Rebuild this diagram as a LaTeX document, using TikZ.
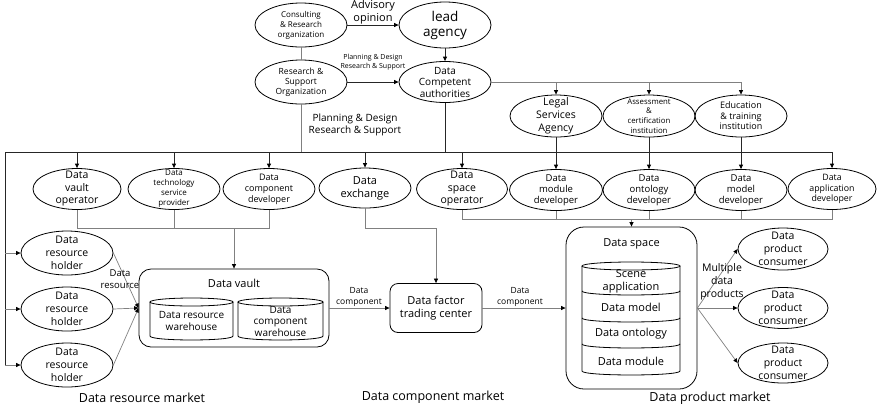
\documentclass[tikz,border=0pt]{standalone}
\usepackage{fontspec}
\setmainfont{Open Sans}
\usetikzlibrary{arrows.meta,shapes.geometric}

% Ellipse with centred text: name, position, width, height, font size, line skip, text
\newcommand{\EllBox}[7]{%
  \node[ell, minimum width=#3pt, minimum height=#4pt] (#1) at (#2) {};
  \node[etext, font=\fontsize{#5}{#6}\selectfont] (#1-t) at (#1.center) {#7};}

\tikzset{
  ell/.style={draw=black, line width=0.8pt, ellipse, inner sep=0pt},
  etext/.style={align=center, inner sep=0pt, text=black},
  tip/.style={-{Triangle[length=4.5pt,width=4pt,color=black]}},
  wire/.style={draw=black!50, line width=0.7pt},
  bus/.style={draw=black!85, line width=0.8pt},
  arr/.style={wire, tip},
  busarr/.style={bus, tip},
  panel/.style={draw=black, line width=0.8pt, rounded corners=#1, inner sep=0pt},
  cyl/.style={draw=black, line width=0.8pt},
}

\begin{document}
\begin{tikzpicture}[x=1pt, y=-1pt]
\useasboundingbox (0,0) rectangle (877,408);

% ---- governance level
\EllBox{cons}{301,25}{92}{44}{8}{10}{Consulting\\\& Research\\organization}
\EllBox{lead}{445,25}{92}{46}{13.5}{15}{lead\\agency}
\EllBox{rso}{301,82}{92}{44}{8.5}{10}{Research \&\\Support\\Organization}
\EllBox{dca}{445,82}{92}{41}{10}{11.5}{Data\\Competent\\authorities}

\EllBox{legal}{556,116}{92}{42}{10.5}{13}{Legal\\Services\\Agency}
\EllBox{assess}{649,116}{92}{42}{7.8}{9.6}{Assessment\\\&\\certification\\institution}
\EllBox{edu}{741,116}{92}{42}{9}{10.5}{Education\\\& training\\institution}

% ---- operators and developers
\EllBox{vop}{77,189}{88}{41}{10.5}{12.5}{Data\\vault\\operator}
\EllBox{tech}{174,189}{92}{41}{8}{10}{Data\\technology\\service\\provider}
\EllBox{cdev}{269,189}{92}{41}{9}{11}{Data\\component\\developer}
\EllBox{dex}{365,188}{92}{40}{11}{13}{Data\\exchange}
\EllBox{sop}{462,189}{91}{41}{10.5}{12.5}{Data\\space\\operator}
\EllBox{mdev}{556,190}{93}{41}{9.5}{11}{Data\\module\\developer}
\EllBox{odev}{649,190}{92}{41}{9.5}{11}{Data\\ontology\\developer}
\EllBox{modev}{741,190}{92}{41}{9.5}{11}{Data\\model\\developer}
\EllBox{adev}{832,189}{88}{41}{8.8}{10.5}{Data\\application\\developer}

% ---- resource holders and consumers
\EllBox{h1}{67,253}{92}{44}{10.5}{13}{Data\\resource\\holder}
\EllBox{h2}{67,309}{92}{44}{10.5}{13}{Data\\resource\\holder}
\EllBox{h3}{67,365}{92}{44}{10.5}{13}{Data\\resource\\holder}
\EllBox{c1}{783,249}{90}{42}{10.5}{13}{Data\\product\\consumer}
\EllBox{c2}{783,308}{90}{41}{10.5}{13}{Data\\product\\consumer}
\EllBox{c3}{783,363}{90}{40}{10.5}{13}{Data\\product\\consumer}

% ---- data vault
\node[panel=12pt, minimum width=190pt, minimum height=78pt] (vault) at (234,308) {};
\node[etext, font=\fontsize{11}{13}\selectfont] (vault-t) at (234,283) {Data vault};
\draw[cyl] (191.5,302) ellipse (41.5 and 4);
\draw[cyl] (150,302) -- (150,336) .. controls (150,341.3) and (233,341.3) .. (233,336) -- (233,302);
\draw[cyl] (280.5,302) ellipse (42.5 and 4);
\draw[cyl] (238,302) -- (238,336) .. controls (238,341.3) and (323,341.3) .. (323,336) -- (323,302);
\node[etext, font=\fontsize{10}{12}\selectfont] (wres) at (191.5,321) {Data resource\\warehouse};
\node[etext, font=\fontsize{10}{11.5}\selectfont] (wcmp) at (280.5,321) {Data\\component\\warehouse};

% ---- trading center
\node[panel=8pt, minimum width=92pt, minimum height=49pt] (trade) at (436,308) {};
\node[etext, font=\fontsize{11}{13}\selectfont] (trade-t) at (trade.center) {Data factor\\trading center};

% ---- data space
\node[panel=18pt, minimum width=131pt, minimum height=162pt] (dspace) at (631.5,308) {};
\node[etext, font=\fontsize{11}{13}\selectfont] (dspace-t) at (631.5,244) {Data space};
\draw[cyl] (631,266) ellipse (49 and 4);
\draw[cyl] (582,266) -- (582,371) .. controls (582,376.3) and (680,376.3) .. (680,371) -- (680,266);
\draw[cyl] (582,291) .. controls (582,296.3) and (680,296.3) .. (680,291);
\draw[cyl] (582,318) .. controls (582,323.3) and (680,323.3) .. (680,318);
\draw[cyl] (582,344) .. controls (582,349.3) and (680,349.3) .. (680,344);
\node[etext, font=\fontsize{11}{13}\selectfont] (lscene) at (631,281.5) {Scene\\application};
\node[etext, font=\fontsize{11}{13}\selectfont] (lmodel) at (631,307) {Data model};
\node[etext, font=\fontsize{11}{13}\selectfont] (lonto) at (631,334) {Data ontology};
\node[etext, font=\fontsize{11}{13}\selectfont] (lmod) at (631,361) {Data module};

% ---- junction points
\coordinate (busL) at (5,152);
\coordinate (busR) at (832,152);
\coordinate (busB) at (5,365);
\coordinate (leftY) at (0,228);
\coordinate (rightY) at (0,219);

% ---- top connectors
\draw[busarr] (cons.east) -- (lead.west);
\draw[wire] (cons.south) -- (rso.north);
\draw[busarr] (lead.south) -- (dca.north);
\draw[busarr] (rso.east) -- (dca.west);
\draw[wire] (dca.east) -- (edu.north |- dca.east);
\draw[arr] (legal.north |- dca.east) -- (legal.north);
\draw[arr] (assess.north |- dca.east) -- (assess.north);
\draw[arr] (edu.north |- dca.east) -- (edu.north);
\draw[wire] (rso.south) -- (rso.south |- busL);
\draw[bus] (dca.south) -- (dca.south |- busL);

% ---- distribution bus
\draw[bus] (busL) -- (busR);
\draw[bus] (busL) -- (busB);
\foreach \n in {vop,tech,cdev,dex,sop,adev}
  \draw[busarr] (\n.north |- busL) -- (\n.north);
\draw[busarr] (legal.south) -- (mdev.north);
\draw[busarr] (assess.south) -- (odev.north);
\draw[busarr] (edu.south) -- (modev.north);
\foreach \n in {h1,h2,h3}
  \draw[arr] (\n.west -| busL) -- (\n.west);

% ---- feeds into vault, trading center and data space
\draw[wire] (vop.south) -- (vop.south |- leftY) -- (cdev.south |- leftY) -- (cdev.south);
\draw[wire] (tech.south) -- (tech.south |- leftY);
\draw[arr] (vault.north |- leftY) -- (vault.north);
\draw[arr] (dex.south) -- (dex.south |- leftY) -- (trade.north |- leftY) -- (trade.north);
\draw[wire] (sop.south) -- (sop.south |- rightY) -- (adev.south |- rightY) -- (adev.south);
\foreach \n in {mdev,odev,modev}
  \draw[wire] (\n.south) -- (\n.south |- rightY);
\draw[arr] (dspace.north |- rightY) -- (dspace.north);

\foreach \n in {h1,h2,h3}
  \draw[arr] (\n.east) -- (vault.west);
\draw[arr] (vault.east) -- (trade.west);
\draw[arr] (trade.east) -- (dspace.west);
\foreach \n in {c1,c2,c3}
  \draw[arr] (dspace.east) -- (\n.west);

% ---- connector labels
\node[etext, font=\fontsize{11}{13}\selectfont] (advice) at (373,12) {Advisory\\opinion};
\node[etext, font=\fontsize{7}{8.5}\selectfont] (plan1) at (373,62) {Planning \& Design\\Research \& Support};
\node[etext, font=\fontsize{10}{12}\selectfont] (plan2) at (355,125) {Planning \& Design\\Research \& Support};
\node[etext, font=\fontsize{9.5}{11.5}\selectfont] (reslbl) at (120,279) {Data\\resource};
\node[etext, font=\fontsize{8.5}{11}\selectfont] (cmp1) at (359,297) {Data\\component};
\node[etext, font=\fontsize{8.5}{11}\selectfont] (cmp2) at (520,297) {Data\\component};
\node[etext, font=\fontsize{10.5}{13}\selectfont] (multi) at (722,282) {Multiple\\data\\products};

% ---- market captions
\node[etext, font=\fontsize{12.5}{15}\selectfont] (mres) at (142,398) {Data resource market};
\node[etext, font=\fontsize{12.5}{15}\selectfont] (mcmp) at (433,397) {Data component market};
\node[etext, font=\fontsize{12.5}{15}\selectfont] (mprod) at (710,398) {Data product market};
\end{tikzpicture}
\end{document}
